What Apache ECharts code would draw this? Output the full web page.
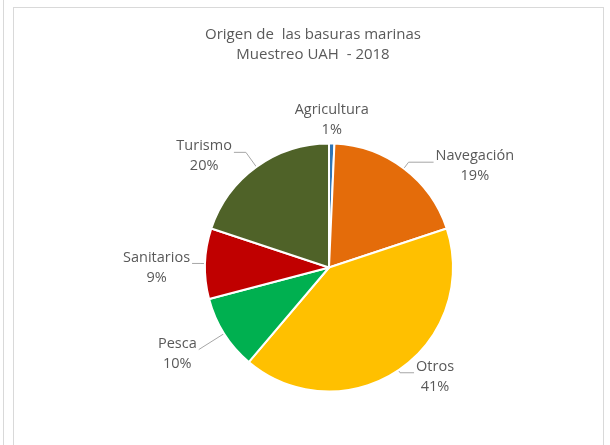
<!DOCTYPE html>
<html>
<head>
<meta charset="utf-8">
<script src="https://cdn.jsdelivr.net/npm/echarts@6/dist/echarts.min.js"></script>
<style>
  html, body { margin: 0; padding: 0; background: #ffffff; }
  #wrap { position: relative; width: 610px; height: 445px; overflow: hidden; background: #fff; }
  #chart { position: absolute; left: 0; top: 0; width: 610px; height: 445px; }
  .ln { position: absolute; background: #d9d9d9; pointer-events: none; }
</style>
</head>
<body>
<div id="wrap">
  <div id="chart"></div>
  <div class="ln" style="left:3px;top:0;width:1px;height:445px;"></div>
  <div class="ln" style="left:13px;top:7px;width:1px;height:438px;"></div>
  <div class="ln" style="left:13px;top:7px;width:590px;height:1px;"></div>
  <div class="ln" style="left:603px;top:7px;width:1px;height:438px;"></div>
</div>
<script>
// ---- Data ----
const titleLines = ['Origen de  las basuras marinas', 'Muestreo UAH  - 2018'];
const categories = ['Agricultura', 'Navegación', 'Otros', 'Pesca', 'Sanitarios', 'Turismo'];
const values = [0.7, 19.2, 41.3, 9.7, 9.2, 19.9];

// ---- Styles (kept apart from data) ----
const colors = ['#2E75B6', '#E46C0A', '#FFC000', '#00B050', '#C00000', '#4F6228'];
const lineLen = [0, 8, 3, 30, 5, 18];
const lineLen2 = [0, 25, 14, 0, 8, 12];
const textColor = '#595959';
const fontFamily = '"Open Sans", "Noto Sans", sans-serif';

const seriesData = categories.map(function (name, i) {
  return {
    name: name,
    value: values[i],
    itemStyle: { color: colors[i] },
    labelLine: { show: i !== 0, length: lineLen[i], length2: lineLen2[i] }
  };
});

const chart = echarts.init(document.getElementById('chart'), null, { renderer: 'canvas' });
chart.setOption({
  animation: false,
  backgroundColor: 'transparent',
  title: {
    text: titleLines.join('\n'),
    left: 308,
    top: 20,
    textAlign: 'center',
    textStyle: {
      color: textColor,
      fontFamily: fontFamily,
      fontSize: 15,
      fontWeight: 'normal',
      lineHeight: 20
    }
  },
  series: [{
    type: 'pie',
    center: [329, 267.5],
    radius: 124,
    startAngle: 90,
    clockwise: true,
    avoidLabelOverlap: false,
    emphasis: { disabled: true },
    itemStyle: { borderColor: '#ffffff', borderWidth: 2 },
    label: {
      show: true,
      position: 'outside',
      distanceToLabelLine: 2,
      padding: [8, 0, 0, 0],
      formatter: function (p) {
        return '{c|' + p.name + '}\n{c|' + Math.round(p.percent) + '%}';
      },
      rich: {
        c: {
          align: 'center',
          color: textColor,
          fontFamily: fontFamily,
          fontSize: 14.5,
          lineHeight: 20
        }
      }
    },
    labelLine: {
      show: true,
      smooth: false,
      lineStyle: { color: '#a6a6a6', width: 1 }
    },
    labelLayout: function (p) {
      if (p.dataIndex !== 0) return {};
      return {
        x: p.rect.x + p.rect.width / 2,
        y: p.rect.y - 27,
        align: 'center',
        verticalAlign: 'middle'
      };
    },
    data: seriesData
  }]
});
</script>
</body>
</html>
